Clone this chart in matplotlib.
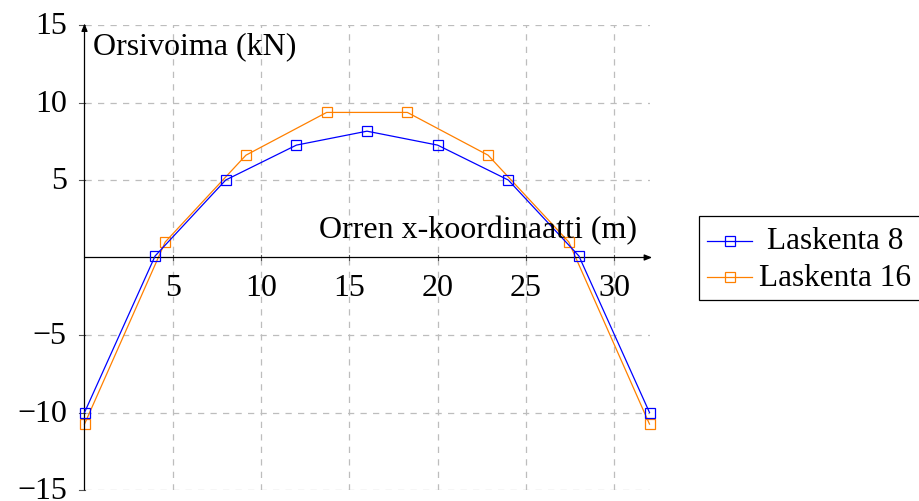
import matplotlib
matplotlib.use("Agg")
import matplotlib.pyplot as plt
from matplotlib.lines import Line2D
from matplotlib.patches import Rectangle

# Laskenta 8: 8 elements, nodes every 4 m
x8 = [0, 4, 8, 12, 16, 20, 24, 28, 32]
n8 = [-10.0, 0.1, 5.0, 7.25, 8.15, 7.25, 5.0, 0.1, -10.0]

# Laskenta 16: nodes every 32/7 m
x16 = [0, 4.571, 9.143, 13.714, 18.286, 22.857, 27.429, 32]
n16 = [-10.75, 1.0, 6.6, 9.36, 9.36, 6.6, 1.0, -10.75]

xticks = [5, 10, 15, 20, 25, 30]
yticks = [-15, -10, -5, 5, 10, 15]
ytick_labels = ["\u221215", "\u221210", "\u22125", "5", "10", "15"]

series_names = ["Laskenta 8", "Laskenta 16"]
series_colors = ["#0000ff", "#ff8000"]

plt.rcParams["font.family"] = ["Liberation Serif", "DejaVu Serif"]
FS = 23

fig = plt.figure(figsize=(9.19, 5.01), dpi=100)
W, H = 919, 501
x0px, x1px = 84.5, 649.5
ytop, ybot = 25.0, 490.0
ax = fig.add_axes([x0px / W, 1 - ybot / H, (x1px - x0px) / W, (ybot - ytop) / H])
ax.set_xlim(0, 32)
ax.set_ylim(-15, 15)

# dashed grid
grid_kw = dict(color="#bdbdbd", lw=0.9, ls=(0, (5, 5)), zorder=0)
for xv in xticks:
    ax.plot([xv, xv], [-15, 15], **grid_kw)
for yv in yticks:
    ax.plot([0, 32], [yv, yv], **grid_kw)

for s in ["top", "right", "bottom", "left"]:
    ax.spines[s].set_visible(False)

# axis lines with arrowheads
ax.annotate("", xy=(32.15, 0), xytext=(0, 0), annotation_clip=False,
            arrowprops=dict(arrowstyle="-|>,head_length=0.45,head_width=0.18",
                            color="black", lw=0.9, shrinkA=0, shrinkB=0))
ax.annotate("", xy=(0, 15.1), xytext=(0, -15), annotation_clip=False,
            arrowprops=dict(arrowstyle="-|>,head_length=0.45,head_width=0.18",
                            color="black", lw=0.9, shrinkA=0, shrinkB=0))

# tick marks
for xv in xticks:
    ax.plot([xv, xv], [-0.18, 0.18], color="#555555", lw=0.8, zorder=1, clip_on=False)
for yv in yticks:
    ax.plot([-0.3, 0], [yv, yv], color="#555555", lw=0.8, zorder=1, clip_on=False)

ax.set_xticks([])
ax.set_yticks([])

# tick labels
for xv in xticks:
    ax.text(xv, -2.0, str(xv), ha="center", va="center", fontsize=FS)
for yv, lab in zip(yticks, ytick_labels):
    ax.text(-1.0, yv - 0.12, lab, ha="right", va="center", fontsize=FS)

ax.plot(x8, n8, color=series_colors[0], lw=0.9, marker="s", ms=7.2, mfc="none",
        mec=series_colors[0], mew=0.9, label=series_names[0], zorder=3, clip_on=False)
ax.plot(x16, n16, color=series_colors[1], lw=0.9, marker="s", ms=7.2, mfc="none",
        mec=series_colors[1], mew=0.9, label=series_names[1], zorder=2, clip_on=False)

ax.text(0.5, 13.6, "Orsivoima (kN)", ha="left", va="center", fontsize=FS)
ax.text(31.3, 1.75, "Orren x-koordinaatti (m)", ha="right", va="center", fontsize=FS)

# legend box with centred entry labels
def fx(px):
    return px / W

def fy(py):
    return 1 - py / H

fig.add_artist(Rectangle((fx(698.5), fy(300.0)), fx(930 - 698.5), (300.0 - 215.5) / H,
                         transform=fig.transFigure, fill=True, facecolor="white",
                         edgecolor="black", lw=0.9))
row_line_y = [240.5, 277.3]
row_base_y = [249.3, 286.0]
for name, col, ly, by in zip(series_names, series_colors, row_line_y, row_base_y):
    fig.add_artist(Line2D([fx(707), fx(752)], [fy(ly), fy(ly)], color=col, lw=0.9,
                          transform=fig.transFigure))
    fig.add_artist(Line2D([fx(729.5)], [fy(ly)], color=col, marker="s", ms=7.2,
                          mfc="none", mec=col, mew=0.9, transform=fig.transFigure))
    fig.text(fx(835), fy(by), name, ha="center", va="baseline", fontsize=22.5)

fig.savefig("out.png", dpi=100)
